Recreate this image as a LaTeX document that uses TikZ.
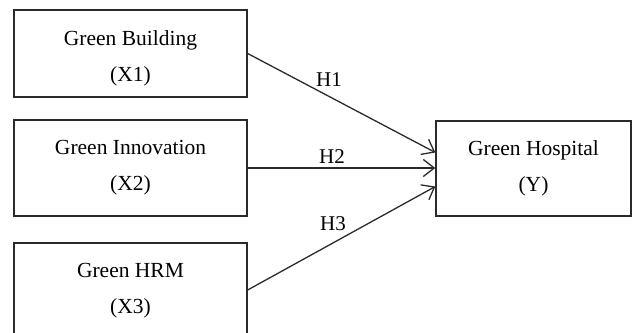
\documentclass[tikz,border=0pt]{standalone}
\usepackage{fontspec}
\setmainfont{Liberation Serif}
\usetikzlibrary{arrows.meta,calc}
\definecolor{edge}{HTML}{2A2A2A}
\tikzset{
  box/.style={draw=edge, line width=1.3pt, minimum width=233pt, minimum height=87pt, inner sep=0pt,
              align=center, font=\fontsize{21.5}{36}\selectfont},
  link/.style={draw=edge, line width=1.3pt, -{Straight Barb[length=11pt,width=17pt,line width=1.3pt]}},
  hlabel/.style={font=\fontsize{21}{24}\selectfont, inner sep=0pt}
}
\begin{document}
\begin{tikzpicture}[x=1pt,y=-1pt]
\useasboundingbox (0,0) rectangle (634,332);
\clip (0,0) rectangle (634,332);
\node[box] (b1) at (130.5,53.5) {\rule{0pt}{25pt}Green Building\\(X1)};
\node[box, minimum height=96pt] (b2) at (130.5,168) {Green Innovation\\(X2)};
\node[box, minimum height=96pt] (b3) at (130.5,291) {Green HRM\\(X3)};
\node[box, minimum width=195pt, minimum height=95pt] (y) at (533.5,168.5) {Green Hospital\\(Y)};
\draw[link] (b1.east) -- ([yshift=16pt]y.west);
\draw[link] (b2.east) -- (b2.east -| y.west);
\draw[link] ([yshift=1pt]b3.east) -- ([yshift=-18pt]y.west);
\node[hlabel] (h1) at (329,80) {H1};
\node[hlabel] (h2) at (332,157) {H2};
\node[hlabel] (h3) at (333,224) {H3};
\end{tikzpicture}
\end{document}
